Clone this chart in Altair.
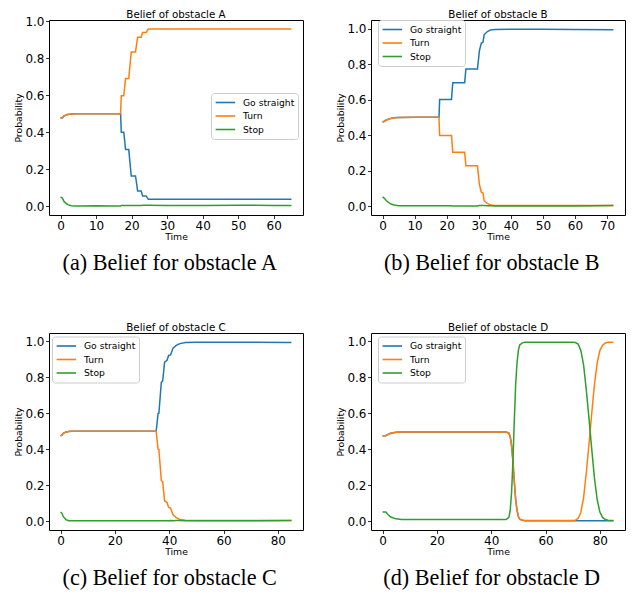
import altair as alt
import pandas as pd

SERIES = ["Go straight", "Turn", "Stop"]
COLORS = ["#1f77b4", "#ff7f0e", "#2ca02c"]
Y_TICKS = [0.0, 0.2, 0.4, 0.6, 0.8, 1.0]

# ---- Panel A ----
A_TIME = [0, 0.5, 1, 2, 3, 4, 6, 10, 14, 16.9, 17.1, 17.8, 18.3, 19.2, 19.9, 21.1,
          21.7, 22.7, 23.1, 24.1, 24.7, 30, 40, 50, 60, 65]
A_GO = [.475, .478, .488, .496, .499, .500, .500, .500, .500, .500, .400, .400, .306,
        .306, .163, .163, .082, .082, .055, .055, .037, .037, .037, .037, .037, .037]
A_TURN = [.475, .478, .488, .496, .499, .500, .500, .500, .500, .500, .597, .597, .690,
          .690, .834, .834, .914, .914, .940, .940, .958, .958, .958, .958, .958, .958]
A_STOP = [.050, .044, .024, .008, .002, .001, .001, .002, .001, .001, .003, .003, .004,
          .004, .003, .003, .004, .004, .005, .005, .005, .004, .004, .005, .004, .004]

# ---- Panel B ----
B_TIME = [0, 0.6, 1.2, 2.6, 3.6, 5, 10, 15, 17.6, 17.8, 21.5, 21.9, 25.6, 26.0, 29.6,
          30.2, 30.8, 31.3, 31.7, 32.7, 33.7, 35, 40, 50, 60, 72]
B_GO = [.474, .478, .485, .494, .497, .499, .500, .500, .500, .600, .600, .695, .695,
        .772, .772, .875, .918, .922, .966, .983, .992, .995, .996, .996, .995, .993]
B_TURN = [.474, .478, .485, .494, .497, .499, .500, .500, .500, .398, .398, .304, .304,
          .227, .227, .122, .078, .074, .030, .015, .006, .004, .003, .003, .004, .004]
B_STOP = [.052, .044, .030, .012, .006, .002, .002, .002, .002, .002, .002, .001, .001,
          .001, .001, .003, .004, .004, .004, .002, .002, .001, .001, .001, .001, .003]

# ---- Panel C ----
C_TIME = [0, 0.5, 1, 2, 3, 4, 6, 10, 20, 30, 35.2, 35.9, 36.2, 37.1, 37.6, 38.3, 39.2,
          39.8, 40.5, 41.4, 42.6, 43.9, 46, 50, 60, 70, 85]
C_GO = [.475, .478, .488, .496, .499, .500, .500, .500, .500, .500, .500, .598, .600,
        .772, .780, .885, .895, .922, .925, .963, .978, .988, .994, .996, .996, .995, .994]
C_TURN = [.475, .478, .488, .496, .499, .500, .500, .500, .500, .500, .500, .400, .398,
          .226, .218, .113, .103, .076, .072, .035, .019, .009, .004, .003, .003, .003, .003]
C_STOP = [.050, .044, .024, .008, .002, .001, .001, .002, .001, .001, .001, .002, .002,
          .002, .002, .002, .002, .002, .003, .002, .003, .003, .002, .001, .001, .002, .003]

# ---- Panel D ----
D_TIME = [0, 1.2, 2, 3, 5, 7, 10, 20, 30, 40,
          45.5, 46.5, 47, 47.5, 48, 48.5, 49, 49.5, 50, 50.5, 51.5, 52.5,
          55, 60, 65, 70,
          71, 72, 73, 74, 75, 76, 77, 78, 79, 80, 81, 82, 83,
          85]
D_GO = [.475, .475, .482, .489, .494, .496, .496, .496, .496, .496,
        .496, .490, .470, .420, .333, .220, .120, .060, .025, .010, .004, .002,
        .002, .002, .002, .001,
        .001, .001, .001, .001, .001, .001, .001, .001, .001, .001, .001, .001, .001,
        .001]
D_TURN = [.475, .475, .482, .489, .494, .496, .496, .496, .496, .496,
          .496, .490, .470, .420, .333, .220, .120, .060, .025, .010, .004, .003,
          .003, .003, .003, .003,
          .005, .014, .049, .129, .269, .429, .599, .759, .879, .949, .979, .991, .995,
          .996]
D_STOP = [.050, .050, .036, .022, .012, .008, .008, .008, .008, .008,
          .008, .020, .060, .160, .334, .560, .760, .880, .950, .980, .992, .995,
          .995, .995, .995, .996,
          .994, .985, .950, .870, .730, .570, .400, .240, .120, .050, .020, .008, .004,
          .003]


def long_df(time, go, turn, stop):
    rows = []
    for name, vals in zip(SERIES, [go, turn, stop]):
        for t, v in zip(time, vals):
            rows.append({"Time": t, "Series": name, "Probability": v})
    return pd.DataFrame(rows)


def panel(title, caption, df, xdom, xticks, ydom, lx, ly, tdy, h):
    line = alt.Chart(df).mark_line(strokeWidth=1.5).encode(
        x=alt.X("Time:Q",
                scale=alt.Scale(domain=xdom, nice=False, zero=False),
                axis=alt.Axis(values=xticks, format="d", title="Time")),
        y=alt.Y("Probability:Q",
                scale=alt.Scale(domain=ydom, nice=False, zero=False),
                axis=alt.Axis(values=Y_TICKS, format=".1f", title="Probability")),
        color=alt.Color("Series:N",
                        scale=alt.Scale(domain=SERIES, range=COLORS),
                        legend=alt.Legend(title=None, orient="none", legendX=lx, legendY=ly)),
    ).properties(
        width=254, height=h,
        title=alt.TitleParams(title, frame="group", anchor="middle", fontSize=10.3,
                              fontWeight="normal", font="DejaVu Sans", offset=0, dy=tdy,
                              color="black"),
    )
    return alt.vconcat(line, title=alt.TitleParams(
        caption, orient="bottom", anchor="middle", dx=11, offset=10,
        font="Liberation Serif", fontSize=22.2, fontWeight="normal", color="black"))


pa = panel("Belief of obstacle A", "(a) Belief for obstacle A",
           long_df(A_TIME, A_GO, A_TURN, A_STOP),
           [-3.25, 68.25], [0, 10, 20, 30, 40, 50, 60], [-0.048, 1.007], 162, 73, 5.2, 195)
pb = panel("Belief of obstacle B", "(b) Belief for obstacle B",
           long_df(B_TIME, B_GO, B_TURN, B_STOP),
           [-3.6, 75.6], [0, 10, 20, 30, 40, 50, 60, 70], [-0.05, 1.048], 7, 0, 0.5, 195)
pc = panel("Belief of obstacle C", "(c) Belief for obstacle C",
           long_df(C_TIME, C_GO, C_TURN, C_STOP),
           [-4.25, 89.25], [0, 20, 40, 60, 80], [-0.05, 1.047], 3, 3.5, 0.5, 197)
pd_ = panel("Belief of obstacle D", "(d) Belief for obstacle D",
            long_df(D_TIME, D_GO, D_TURN, D_STOP),
            [-4.25, 89.25], [0, 20, 40, 60, 80], [-0.05, 1.047], 7, 3.5, 0.5, 197)

row1 = alt.hconcat(pa, pb, spacing=31).resolve_scale(
    x="independent", y="independent", color="independent").resolve_legend(color="independent")
row2 = alt.hconcat(pc, pd_, spacing=31).resolve_scale(
    x="independent", y="independent", color="independent").resolve_legend(color="independent")

chart = alt.vconcat(row1, row2, spacing=47).resolve_scale(
    x="independent", y="independent", color="independent").resolve_legend(color="independent")

chart = chart.properties(
    padding={"left": 5, "top": 1, "right": 0, "bottom": 0}
).configure(font="DejaVu Sans").configure_view(
    stroke="black", strokeWidth=1
).configure_axis(
    domain=False, grid=False, tickColor="black", tickSize=3.5, tickWidth=0.8,
    labelColor="black", labelFontSize=12, labelFont="DejaVu Sans",
    titleFont="DejaVu Sans", titleFontSize=9.3, titleFontWeight="normal",
    titleColor="black", labelPadding=1.5, titlePadding=1.5
).configure_legend(
    labelFont="DejaVu Sans", labelFontSize=9.2, labelColor="black",
    symbolType="M-1,0L3,0", symbolSize=95, symbolStrokeWidth=1.6,
    fillColor="white", strokeColor="#cccccc", padding=3.5, cornerRadius=3,
    rowPadding=1.5, labelOffset=16.5
)

chart.save("out.html", embed_options={"renderer": "svg", "actions": False})
